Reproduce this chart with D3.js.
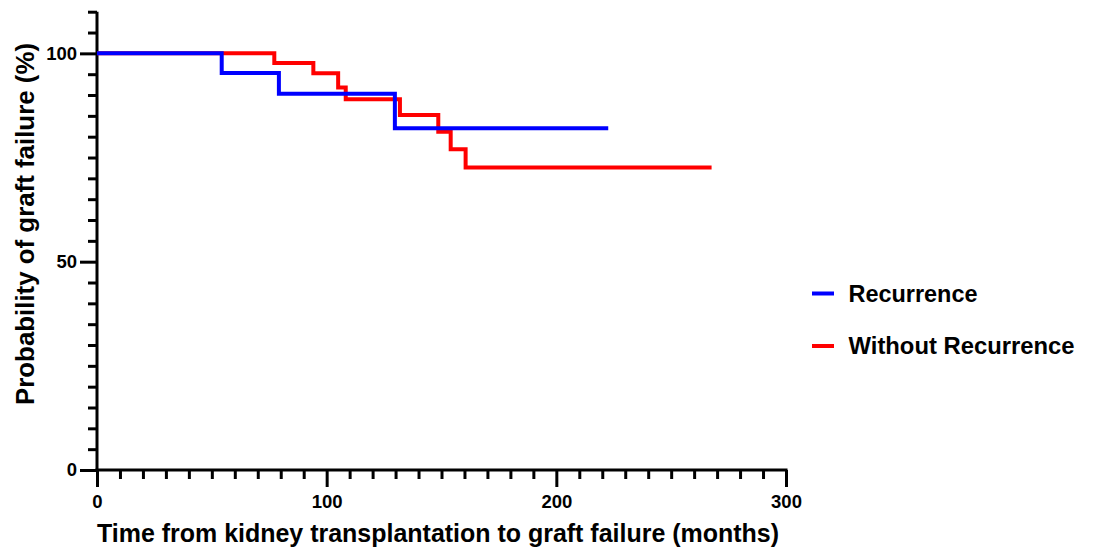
<!DOCTYPE html>
<html><head><meta charset="utf-8">
<script src="https://cdn.jsdelivr.net/npm/d3@7"></script>
<style>html,body{margin:0;padding:0;background:#fff;}svg{display:block;font-family:"Liberation Sans",Arial,Helvetica,sans-serif;font-weight:bold;}</style>
</head><body>
<svg id="chart" width="1093" height="548"></svg>
<script>
// Data
const seriesNames = ["Recurrence", "Without Recurrence"];
const seriesColors = ["#0000ff", "#ff0000"];
const recurrenceTimes = [0, 54.3, 79.2, 129.7, 222.6];
const recurrenceSurv = [100, 95.3, 90.3, 82.0, 82.0];
const withoutTimes = [0, 77.2, 94.2, 105.0, 108.3, 131.9, 148.6, 154.0, 160.5, 267.6];
const withoutSurv = [100, 97.7, 95.2, 91.8, 89.0, 85.2, 81.2, 77.0, 72.6, 72.6];
const xMajorTicks = [0, 100, 200, 300];
const yMajorTicks = [0, 50, 100];
const xTitle = "Time from kidney transplantation to graft failure (months)";
const yTitle = "Probability of graft failure (%)";

const svg = d3.select("#chart");
const x = d3.scaleLinear().domain([0, 300]).range([97, 786]);
const y = d3.scaleLinear().domain([0, 110]).range([470, 11.7]);

const axisW = 3;
const tickFont = 18.5;
const xMinor = d3.range(0, 301, 10).filter(v => !xMajorTicks.includes(v));
const yMinor = d3.range(0, 111, 5).filter(v => !yMajorTicks.includes(v));

function styleAxis(g) {
  g.selectAll(".tick line").attr("stroke", "#000").attr("stroke-width", axisW);
  g.selectAll("text").attr("font-size", tickFont).attr("font-family", "Liberation Sans, Arial, sans-serif")
    .attr("font-weight", "bold").attr("fill", "#000");
}

const gx = svg.append("g").attr("transform", `translate(0,${y(0)})`);
gx.call(d3.axisBottom(x).tickValues(xMinor).tickSize(9).tickFormat(""));
gx.append("g").call(d3.axisBottom(x).tickValues(xMajorTicks).tickSize(17).tickPadding(8).tickFormat(d3.format("d")));
styleAxis(gx);
gx.selectAll("g > path.domain").filter((d,i,n)=>n[i].parentNode !== gx.node()).remove();
gx.selectAll("path.domain").attr("stroke", "#000").attr("stroke-width", axisW).attr("d", `M${x(0)-1.5},0H${x(300)+1.5}`);

const gy = svg.append("g").attr("transform", `translate(${x(0)},0)`);
gy.call(d3.axisLeft(y).tickValues(yMinor).tickSize(9).tickFormat(""));
gy.append("g").call(d3.axisLeft(y).tickValues(yMajorTicks).tickSize(17).tickPadding(3).tickFormat(d3.format("d")));
styleAxis(gy);
gy.selectAll("g > path.domain").filter((d,i,n)=>n[i].parentNode !== gy.node()).remove();
gy.selectAll("path.domain").attr("stroke", "#000").attr("stroke-width", axisW).attr("d", `M0,${y(110)}V${y(0)+1.5}`);

// curves
const line = d3.line().x(d => x(d[0])).y(d => y(d[1])).curve(d3.curveStepAfter);
const series = [
  d3.zip(withoutTimes, withoutSurv),
  d3.zip(recurrenceTimes, recurrenceSurv)
];
svg.append("path").datum(series[0]).attr("d", line).attr("fill", "none")
  .attr("stroke", seriesColors[1]).attr("stroke-width", 4);
svg.append("path").datum(series[1]).attr("d", line).attr("fill", "none")
  .attr("stroke", seriesColors[0]).attr("stroke-width", 4);

// titles
svg.append("text").attr("x", 97).attr("y", 542).attr("text-anchor", "start")
  .attr("font-size", 25).attr("textLength", 682).attr("lengthAdjust", "spacingAndGlyphs")
  .attr("fill", "#000").text(xTitle);
svg.append("text").attr("transform", `translate(34,405) rotate(-90)`).attr("text-anchor", "start")
  .attr("font-size", 25).attr("textLength", 362).attr("lengthAdjust", "spacingAndGlyphs")
  .attr("fill", "#000").text(yTitle);

// legend
const legLen = [129, 226];
const leg = svg.append("g");
seriesNames.forEach((n, i) => {
  const ly = 293.5 + i * 52.5;
  leg.append("line").attr("x1", 812).attr("x2", 834).attr("y1", ly).attr("y2", ly)
    .attr("stroke", seriesColors[i]).attr("stroke-width", 4);
  leg.append("text").attr("x", 848.5).attr("y", ly + 8.3).attr("font-size", 23)
    .attr("textLength", legLen[i]).attr("lengthAdjust", "spacingAndGlyphs")
    .attr("fill", "#000").text(n);
});
</script>
</body></html>
